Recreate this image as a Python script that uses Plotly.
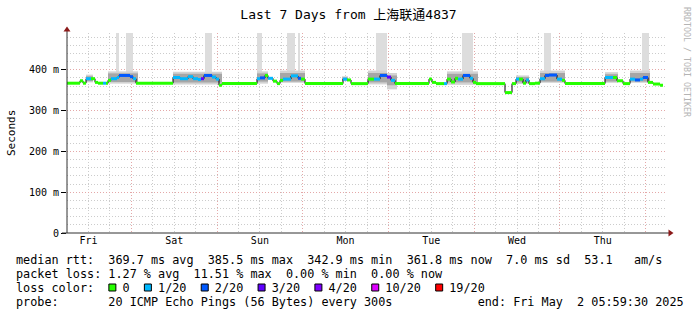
import plotly.graph_objects as go
import pandas as pd

# ---------------- data ----------------
START = pd.Timestamp("2025-04-25 05:59:30")
END = pd.Timestamp("2025-05-02 05:59:30")

title_text = "Last 7 Days from 上海联通4837"

# median rtt segments: start (hours after START), median (ms), loss index
seg_hours = [0.0, 3.64, 4.48, 5.32, 6.72, 7.84, 8.68, 10.08, 10.92, 11.48, 12.32, 14.0, 14.56,
             17.64, 18.48, 19.32, 29.68, 31.64, 33.88, 35.28, 36.68, 37.52, 38.36, 40.6, 41.72,
             42.56, 43.4, 53.2, 54.04, 55.44, 56.28, 57.68, 58.8, 59.64, 60.48, 62.72, 64.68,
             65.52, 66.64, 77.28, 78.4, 79.52, 84.28, 85.96, 87.64, 89.6, 90.72, 91.84, 101.36,
             102.2, 103.32, 105.56, 106.4, 107.52, 108.64, 109.48, 110.88, 112.84, 113.68, 114.52,
             122.64, 124.6, 125.72, 126.56, 127.68, 128.52, 129.36, 131.04, 132.44, 133.84,
             134.96, 137.2, 138.6, 139.44, 150.64, 152.88, 154.0, 155.68, 157.64, 159.04, 160.44,
             161.28, 162.68, 164.08, 166.04]
seg_end_hour = 166.88
seg_median = [367, 373, 367, 378, 378, 369, 367, 367, 367, 374, 378, 381, 386,
              383, 378, 367, 381, 378, 383, 378, 376, 378, 386, 382, 377,
              362, 366, 378, 380, 386, 379, 372, 366, 374, 377, 385, 379,
              377, 366, 377, 375, 366, 377, 377, 386, 382, 374, 366, 377,
              369, 366, 366, 377, 370, 379, 377, 386, 379, 369, 366,
              344, 366, 377, 377, 367, 375, 366, 367, 378, 386,
              387, 377, 374, 366, 381, 381, 373, 366, 377, 375, 377,
              381, 369, 365, 362]
seg_loss = [0, 0, 0, 1, 0, 0, 0, 1, 0, 0, 1, 1, 2,
            2, 1, 0, 1, 1, 1, 1, 1, 3, 2, 1, 1,
            0, 0, 1, 2, 0, 1, 0, 0, 0, 1, 1, 2,
            0, 0, 1, 0, 0, 0, 1, 2, 3, 1, 0, 0,
            0, 0, 1, 0, 0, 0, 1, 2, 1, 0, 0,
            0, 0, 1, 0, 0, 1, 0, 0, 1, 2,
            2, 1, 0, 0, 1, 0, 0, 0, 1, 2, 1,
            2, 0, 0, 0]

# smoke (spread of the 20 pings) blocks
smoke_start = [5.32, 11.48, 29.68, 53.2, 59.64, 77.0, 84.28, 89.6, 106.4, 125.72, 132.44, 150.64, 157.64]
smoke_end = [7.28, 19.88, 43.4, 56.28, 66.64, 78.68, 89.6, 92.4, 115.08, 129.36, 139.44, 154.28, 163.24]
smoke_lo = [369, 366, 364, 366, 368, 372, 364, 352, 363, 365, 368, 368, 368]
smoke_hi = [388, 396, 395, 396, 398, 384, 398, 392, 396, 386, 398, 394, 398]
core_lo = [372, 370, 369, 371, 371, 374, 369, 362, 369, 369, 371, 371, 371]
core_hi = [384, 391, 390, 391, 392, 381, 392, 386, 390, 382, 392, 389, 392]

# smoke reaching beyond the top of the graph
spike_start = [13.72, 16.52, 38.64, 53.2, 61.6, 64.68, 86.52, 110.6, 133.56, 161.0]
spike_end = [14.56, 18.48, 40.6, 54.6, 63.84, 65.24, 89.6, 113.68, 135.52, 162.96]
spike_lo = [390, 390, 390, 390, 390, 390, 390, 390, 390, 390]
spike_hi = [490, 490, 490, 490, 490, 490, 490, 490, 490, 490]

day_names = ["Fri", "Sat", "Sun", "Mon", "Tue", "Wed", "Thu"]
day_noons = ["2025-04-25 12:00", "2025-04-26 12:00", "2025-04-27 12:00", "2025-04-28 12:00",
             "2025-04-29 12:00", "2025-04-30 12:00", "2025-05-01 12:00"]

y_tickvals = [0, 100, 200, 300, 400]
y_ticktext = ["0", "100 m", "200 m", "300 m", "400 m"]

loss_labels = ["0", "1/20", "2/20", "3/20", "4/20", "10/20", "19/20"]
loss_colors = ["#26ff00", "#00b8ff", "#0059ff", "#5e00ff", "#7e00ff", "#dd00ff", "#ff0000"]

stat_lines = [
    "median rtt:  369.7 ms avg  385.5 ms max  342.9 ms min  361.8 ms now  7.0 ms sd  53.1   am/s",
    "packet loss: 1.27 % avg  11.51 % max  0.00 % min  0.00 % now",
]
probe_line = "probe:       20 ICMP Echo Pings (56 Bytes) every 300s            end: Fri May  2 05:59:30 2025"
side_text = "RRDTOOL / TOBI OETIKER"

# ---------------- layout geometry (pixels) ----------------
W, H = 697, 315
PL, PR, PT, PB = 67, 667, 33, 233
MONO = "DejaVu Sans Mono, Noto Sans CJK SC, monospace"


def px(x):
    return (x - PL) / (PR - PL)


def py(y):
    return (PB - y) / (PB - PT)


def t(h):
    return START + pd.Timedelta(hours=h)


fig = go.Figure()


def add_blocks(starts, ends, lows, highs, color):
    xs, ys, bs, ws = [], [], [], []
    for s, e, lo, hi in zip(starts, ends, lows, highs):
        xs.append(t((s + e) / 2))
        ws.append((e - s) * 3600 * 1000)
        bs.append(lo)
        ys.append(hi - lo)
    fig.add_trace(go.Bar(x=xs, y=ys, base=bs, width=ws, marker=dict(color=color, line=dict(width=0)),
                         hoverinfo="skip", showlegend=False))


add_blocks(spike_start, spike_end, spike_lo, spike_hi, "#dddddd")
add_blocks(smoke_start, smoke_end, smoke_lo, smoke_hi, "#d2d2d2")
add_blocks(smoke_start, smoke_end, core_lo, core_hi, "#a6a6a6")

# black connector step line
bx = [t(h) for h in seg_hours] + [t(seg_end_hour)]
by = seg_median + [seg_median[-1]]
fig.add_trace(go.Scatter(x=bx, y=by, mode="lines", line=dict(color="#000000", width=1, shape="hv"),
                         hoverinfo="skip", showlegend=False))

ends = seg_hours[1:] + [seg_end_hour]
for li, col in enumerate(loss_colors):
    xs, ys = [], []
    for s, e, m, l in zip(seg_hours, ends, seg_median, seg_loss):
        if l == li:
            xs += [t(s), t(e), None]
            ys += [m, m, None]
    if xs:
        fig.add_trace(go.Scatter(x=xs, y=ys, mode="lines", line=dict(color=col, width=3),
                                 hoverinfo="skip", showlegend=False))

# dummy trace for the grid axis
fig.add_trace(go.Scatter(x=[START, END], y=[None, None], xaxis="x2", showlegend=False, hoverinfo="skip"))

minor_grid = "#cccccc"
major_grid = "#e4a8a8"
dash = "1px,2px"

fig.update_layout(
    width=W, height=H,
    margin=dict(l=PL, r=W - PR, t=PT, b=H - PB, pad=0),
    paper_bgcolor="#ffffff", plot_bgcolor="#ffffff",
    barmode="overlay",
    title=dict(text=title_text, x=0.5, xref="container", xanchor="center",
               y=1 - 14 / H, yref="container", yanchor="middle",
               font=dict(family=MONO, size=13, color="#000000")),
    xaxis=dict(type="date", range=[START, END], tickmode="array", tickvals=day_noons, ticktext=day_names,
               showgrid=False, zeroline=False, showline=False, ticks="",
               tickfont=dict(family=MONO, size=10, color="#000000")),
    xaxis2=dict(type="date", range=[START, END], overlaying="x", side="bottom",
                tick0="2025-04-25 00:00:00", dtick=86400000, showticklabels=False, ticks="",
                showgrid=True, gridcolor=major_grid, griddash=dash, gridwidth=1,
                minor=dict(tick0="2025-04-25 00:00:00", dtick=21600000, showgrid=True,
                           gridcolor=minor_grid, griddash=dash, gridwidth=1),
                zeroline=False, showline=False),
    yaxis=dict(range=[0, 490], tickmode="array", tickvals=y_tickvals, ticktext=y_ticktext,
               showgrid=True, gridcolor=major_grid, griddash=dash, gridwidth=1,
               minor=dict(dtick=20, tick0=0, showgrid=True, gridcolor=minor_grid, griddash=dash, gridwidth=1),
               zeroline=False, showline=False, ticks="outside", ticklen=5, tickcolor="#000000",
               tickfont=dict(family=MONO, size=10, color="#000000")),
)

shapes = []
axis_col = "#303030"
arrow_col = "#8b1a1a"
# axis lines
shapes.append(dict(type="line", xref="paper", yref="paper", x0=px(67), x1=px(67), y0=py(233), y1=py(30),
                   line=dict(color=axis_col, width=1)))
shapes.append(dict(type="line", xref="paper", yref="paper", x0=px(62), x1=px(670), y0=py(233), y1=py(233),
                   line=dict(color=axis_col, width=1)))
# arrow heads
shapes.append(dict(type="path", xref="paper", yref="paper",
                   path=f"M {px(67)} {py(26.5)} L {px(63.5)} {py(31.5)} L {px(70.5)} {py(31.5)} Z",
                   fillcolor=arrow_col, line=dict(width=0)))
shapes.append(dict(type="path", xref="paper", yref="paper",
                   path=f"M {px(673.5)} {py(233)} L {px(668.5)} {py(229.5)} L {px(668.5)} {py(236.5)} Z",
                   fillcolor=arrow_col, line=dict(width=0)))

annotations = []
LFS = 11.8
CW = 0.6021 * LFS
TX = 16
row_y = [259.5, 273.5, 287.5, 301.5]


def nb(s):
    return s.replace(" ", "\u00a0")


for i, line in enumerate(stat_lines):
    annotations.append(dict(text=nb(line), xref="paper", yref="paper", x=px(TX), y=py(row_y[i]),
                            xanchor="left", yanchor="middle", showarrow=False, borderpad=0, borderwidth=0,
                            font=dict(family=MONO, size=LFS, color="#000000")))

# loss color row
row = "loss color:  "
sq_cols = []
for lbl in loss_labels:
    sq_cols.append(len(row))
    row += "  " + lbl + "  "
annotations.append(dict(text=nb(row.rstrip()), xref="paper", yref="paper", x=px(TX), y=py(row_y[2]),
                        xanchor="left", yanchor="middle", showarrow=False, borderpad=0, borderwidth=0,
                        font=dict(family=MONO, size=LFS, color="#000000")))
for c, col in zip(sq_cols, loss_colors):
    x0 = TX + c * CW + 0.5
    shapes.append(dict(type="rect", xref="paper", yref="paper", x0=px(x0), x1=px(x0 + 7),
                       y0=py(row_y[2] + 3.5), y1=py(row_y[2] - 3.5),
                       fillcolor=col, line=dict(color="#000000", width=1)))

annotations.append(dict(text=nb(probe_line), xref="paper", yref="paper", x=px(TX), y=py(row_y[3]),
                        xanchor="left", yanchor="middle", showarrow=False, borderpad=0, borderwidth=0,
                        font=dict(family=MONO, size=LFS, color="#000000")))

# y axis title
annotations.append(dict(text="Seconds", xref="paper", yref="paper", x=px(11), y=py(133),
                        xanchor="center", yanchor="middle", textangle=-90, showarrow=False,
                        font=dict(family=MONO, size=11, color="#000000")))
# side credit
annotations.append(dict(text=side_text, xref="paper", yref="paper", x=px(687), y=py(5),
                        xanchor="center", yanchor="top", textangle=90, showarrow=False,
                        font=dict(family=MONO, size=8.3, color="#b4b4b4")))

fig.update_layout(shapes=shapes, annotations=annotations)
fig.write_html("out.html")
